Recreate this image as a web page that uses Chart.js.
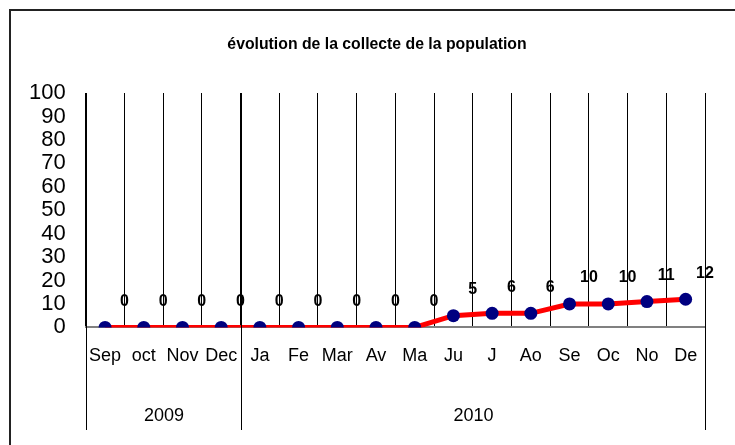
<!DOCTYPE html>
<html>
<head>
<meta charset="utf-8">
<script src="https://cdn.jsdelivr.net/npm/chart.js@4"></script>
<style>
  body { margin: 0; background: #fff; }
  #wrap { width: 735px; height: 445px; position: relative; }
</style>
</head>
<body>
<div id="wrap"><canvas id="chart"></canvas></div>
<script>
// data
const months = ['Sep', 'oct', 'Nov', 'Dec', 'Ja', 'Fe', 'Mar', 'Av', 'Ma', 'Ju', 'J', 'Ao', 'Se', 'Oc', 'No', 'De'];
const collecte = [0, 0, 0, 0, 0, 0, 0, 0, 0, 5, 6, 6, 10, 10, 11, 12];
const years = ['2009', '2010'];
const yearSizes = [4, 12]; // months in each year group
const titleText = 'évolution de la collecte de la population';

const FONT = "'Liberation Sans', Arial, sans-serif";

// draws title, outer frame, year row and the value labels
const excelBits = {
    id: 'excelBits',
    afterDraw(chart) {
        const ctx = chart.ctx;
        const area = chart.chartArea;
        const x = chart.scales.x;
        const half = (x.getPixelForValue(1) - x.getPixelForValue(0)) / 2;
        ctx.save();

        // frame
        ctx.strokeStyle = '#222';
        ctx.lineWidth = 2;
        ctx.beginPath();
        ctx.moveTo(10, 460);
        ctx.lineTo(10, 10);
        ctx.lineTo(760, 10);
        ctx.stroke();

        // title
        ctx.fillStyle = '#000';
        ctx.font = 'bold 15.8px ' + FONT;
        ctx.textAlign = 'center';
        ctx.textBaseline = 'middle';
        ctx.fillText(titleText, 377, 45);

        // year groups
        ctx.strokeStyle = '#000';
        ctx.lineWidth = 1;
        ctx.font = '18px ' + FONT;
        let start = 0;
        years.forEach(function(yr, i) {
            const end = start + yearSizes[i];
            const x0 = Math.round(x.getPixelForValue(start) - half) + 0.5;
            const x1 = Math.round(x.getPixelForValue(end - 1) + half) + 0.5;
            ctx.beginPath();
            ctx.moveTo(x0, area.top);
            ctx.lineTo(x0, 430);
            ctx.stroke();
            if (i === years.length - 1) {
                ctx.beginPath();
                ctx.moveTo(x1, area.top);
                ctx.lineTo(x1, 430);
                ctx.stroke();
            }
            ctx.fillText(yr, (x0 + x1) / 2, 416);
            start = end;
        });

        // value labels
        ctx.font = 'bold 16px ' + FONT;
        const meta = chart.getDatasetMeta(0);
        meta.data.forEach(function(pt, i) {
            ctx.fillText(String(collecte[i]), pt.x + half, pt.y - 26);
        });
        ctx.restore();
    }
};

const ctx = document.getElementById('chart').getContext('2d');
const chart = new Chart(ctx, {
    type: 'line',
    data: {
        labels: months,
        datasets: [{
            data: collecte,
            borderColor: '#ff0000',
            borderWidth: 5,
            backgroundColor: '#000080',
            pointBackgroundColor: '#000080',
            pointBorderWidth: 0,
            pointRadius: 6.5,
            tension: 0
        }]
    },
    options: {
        responsive: true,
        maintainAspectRatio: false,
        animation: false,
        layout: {
            padding: { left: 9, right: 30, top: 93, bottom: 60 }
        },
        plugins: {
            legend: { display: false },
            tooltip: { enabled: false }
        },
        scales: {
            x: {
                offset: true,
                grid: {
                    offset: true,
                    color: '#000',
                    lineWidth: 1,
                    drawTicks: false
                },
                border: { color: '#808080', width: 2 },
                ticks: {
                    color: '#000',
                    padding: 18,
                    maxRotation: 0,
                    autoSkip: false,
                    font: { family: FONT, size: 18 }
                }
            },
            y: {
                min: 0,
                max: 100,
                grid: { display: false, drawTicks: false },
                border: { display: false },
                ticks: {
                    stepSize: 10,
                    autoSkip: false,
                    color: '#000',
                    padding: 20,
                    font: { family: FONT, size: 22, lineHeight: 1 }
                }
            }
        }
    },
    plugins: [excelBits]
});
</script>
</body>
</html>
